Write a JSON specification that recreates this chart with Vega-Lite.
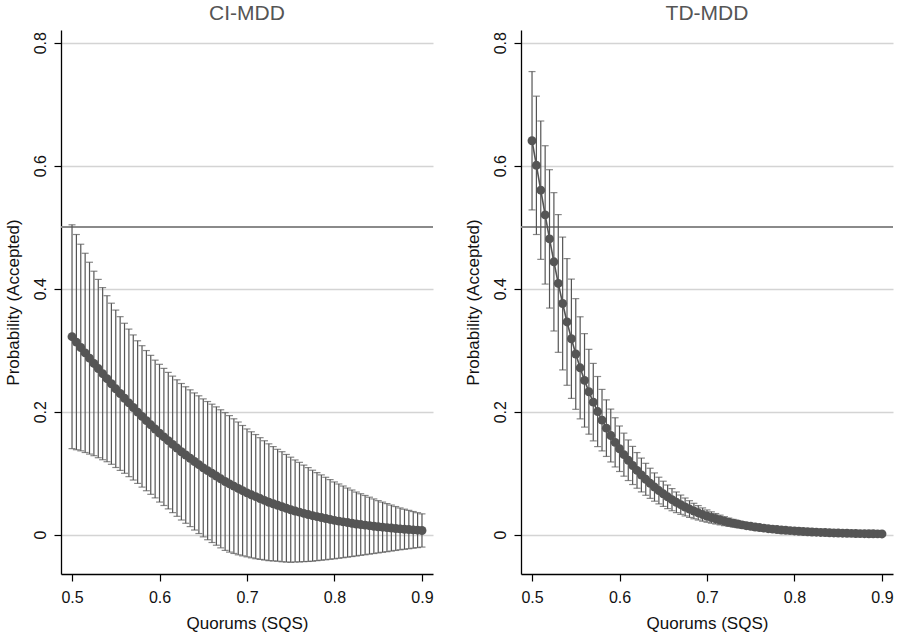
{
"$schema": "https://vega.github.io/schema/vega-lite/v6.json",
"background": "white",
"padding": {"left": 3, "top": 3, "right": 3, "bottom": 3},
"config": {
  "view": {"stroke": null},
  "font": "Liberation Sans",
  "axis": {"domainColor": "#000000", "domainWidth": 1.3, "tickColor": "#000000", "tickSize": 7, "tickWidth": 1.2, "labelFontSize": 16, "titleFontSize": 17, "labelColor": "#111111", "titleColor": "#111111", "labelFont": "Liberation Sans", "titleFont": "Liberation Sans", "titleFontWeight": "normal", "labelPadding": 6},
  "axisY": {"grid": true, "gridColor": "#d4d4d4", "gridWidth": 1.3, "labelAngle": -90, "labelAlign": "center", "labelBaseline": "bottom", "titlePadding": 10},
  "axisX": {"grid": false, "labelFlush": false, "labelPadding": 8, "titlePadding": 10},
  "title": {"fontSize": 21, "fontWeight": "normal", "color": "#555555", "font": "Liberation Sans", "frame": "group", "anchor": "middle", "offset": 6},
  "concat": {"spacing": 29}
},
"datasets": {
"d": [
{"panel":"CI-MDD","q":0.500,"p":0.3219,"e":0.182},
{"panel":"CI-MDD","q":0.505,"p":0.3131,"e":0.175},
{"panel":"CI-MDD","q":0.510,"p":0.3043,"e":0.168},
{"panel":"CI-MDD","q":0.515,"p":0.2956,"e":0.162},
{"panel":"CI-MDD","q":0.520,"p":0.2870,"e":0.156},
{"panel":"CI-MDD","q":0.525,"p":0.2784,"e":0.150},
{"panel":"CI-MDD","q":0.530,"p":0.2701,"e":0.145},
{"panel":"CI-MDD","q":0.535,"p":0.2618,"e":0.140},
{"panel":"CI-MDD","q":0.540,"p":0.2536,"e":0.135},
{"panel":"CI-MDD","q":0.545,"p":0.2454,"e":0.131},
{"panel":"CI-MDD","q":0.550,"p":0.2372,"e":0.128},
{"panel":"CI-MDD","q":0.555,"p":0.2295,"e":0.125},
{"panel":"CI-MDD","q":0.560,"p":0.2218,"e":0.122},
{"panel":"CI-MDD","q":0.565,"p":0.2143,"e":0.120},
{"panel":"CI-MDD","q":0.570,"p":0.2068,"e":0.118},
{"panel":"CI-MDD","q":0.575,"p":0.1993,"e":0.116},
{"panel":"CI-MDD","q":0.580,"p":0.1923,"e":0.115},
{"panel":"CI-MDD","q":0.585,"p":0.1854,"e":0.114},
{"panel":"CI-MDD","q":0.590,"p":0.1786,"e":0.113},
{"panel":"CI-MDD","q":0.595,"p":0.1718,"e":0.112},
{"panel":"CI-MDD","q":0.600,"p":0.1650,"e":0.112},
{"panel":"CI-MDD","q":0.605,"p":0.1589,"e":0.1115},
{"panel":"CI-MDD","q":0.610,"p":0.1529,"e":0.111},
{"panel":"CI-MDD","q":0.615,"p":0.1468,"e":0.111},
{"panel":"CI-MDD","q":0.620,"p":0.1408,"e":0.111},
{"panel":"CI-MDD","q":0.625,"p":0.1348,"e":0.111},
{"panel":"CI-MDD","q":0.630,"p":0.1295,"e":0.111},
{"panel":"CI-MDD","q":0.635,"p":0.1243,"e":0.1112},
{"panel":"CI-MDD","q":0.640,"p":0.1190,"e":0.1115},
{"panel":"CI-MDD","q":0.645,"p":0.1138,"e":0.112},
{"panel":"CI-MDD","q":0.650,"p":0.1086,"e":0.1122},
{"panel":"CI-MDD","q":0.655,"p":0.1041,"e":0.1124},
{"panel":"CI-MDD","q":0.660,"p":0.0997,"e":0.1125},
{"panel":"CI-MDD","q":0.665,"p":0.0953,"e":0.1125},
{"panel":"CI-MDD","q":0.670,"p":0.0908,"e":0.1123},
{"panel":"CI-MDD","q":0.675,"p":0.0864,"e":0.112},
{"panel":"CI-MDD","q":0.680,"p":0.0826,"e":0.111},
{"panel":"CI-MDD","q":0.685,"p":0.0789,"e":0.1095},
{"panel":"CI-MDD","q":0.690,"p":0.0752,"e":0.108},
{"panel":"CI-MDD","q":0.695,"p":0.0715,"e":0.106},
{"panel":"CI-MDD","q":0.700,"p":0.0679,"e":0.104},
{"panel":"CI-MDD","q":0.705,"p":0.0648,"e":0.1025},
{"panel":"CI-MDD","q":0.710,"p":0.0618,"e":0.101},
{"panel":"CI-MDD","q":0.715,"p":0.0587,"e":0.099},
{"panel":"CI-MDD","q":0.720,"p":0.0557,"e":0.097},
{"panel":"CI-MDD","q":0.725,"p":0.0527,"e":0.095},
{"panel":"CI-MDD","q":0.730,"p":0.0502,"e":0.093},
{"panel":"CI-MDD","q":0.735,"p":0.0478,"e":0.091},
{"panel":"CI-MDD","q":0.740,"p":0.0454,"e":0.0895},
{"panel":"CI-MDD","q":0.745,"p":0.0429,"e":0.0875},
{"panel":"CI-MDD","q":0.750,"p":0.0405,"e":0.0855},
{"panel":"CI-MDD","q":0.755,"p":0.0385,"e":0.083},
{"panel":"CI-MDD","q":0.760,"p":0.0366,"e":0.081},
{"panel":"CI-MDD","q":0.765,"p":0.0346,"e":0.0785},
{"panel":"CI-MDD","q":0.770,"p":0.0327,"e":0.0763},
{"panel":"CI-MDD","q":0.775,"p":0.0308,"e":0.074},
{"panel":"CI-MDD","q":0.780,"p":0.0293,"e":0.0717},
{"panel":"CI-MDD","q":0.785,"p":0.0278,"e":0.0694},
{"panel":"CI-MDD","q":0.790,"p":0.0262,"e":0.0671},
{"panel":"CI-MDD","q":0.795,"p":0.0247,"e":0.0648},
{"panel":"CI-MDD","q":0.800,"p":0.0232,"e":0.0625},
{"panel":"CI-MDD","q":0.805,"p":0.0220,"e":0.0604},
{"panel":"CI-MDD","q":0.810,"p":0.0208,"e":0.0583},
{"panel":"CI-MDD","q":0.815,"p":0.0196,"e":0.0562},
{"panel":"CI-MDD","q":0.820,"p":0.0185,"e":0.0541},
{"panel":"CI-MDD","q":0.825,"p":0.0173,"e":0.052},
{"panel":"CI-MDD","q":0.830,"p":0.0164,"e":0.0501},
{"panel":"CI-MDD","q":0.835,"p":0.0155,"e":0.0482},
{"panel":"CI-MDD","q":0.840,"p":0.0146,"e":0.0463},
{"panel":"CI-MDD","q":0.845,"p":0.0137,"e":0.0444},
{"panel":"CI-MDD","q":0.850,"p":0.0128,"e":0.0425},
{"panel":"CI-MDD","q":0.855,"p":0.0121,"e":0.0408},
{"panel":"CI-MDD","q":0.860,"p":0.0114,"e":0.0391},
{"panel":"CI-MDD","q":0.865,"p":0.0107,"e":0.0374},
{"panel":"CI-MDD","q":0.870,"p":0.0100,"e":0.0357},
{"panel":"CI-MDD","q":0.875,"p":0.0094,"e":0.034},
{"panel":"CI-MDD","q":0.880,"p":0.0088,"e":0.0326},
{"panel":"CI-MDD","q":0.885,"p":0.0083,"e":0.0312},
{"panel":"CI-MDD","q":0.890,"p":0.0078,"e":0.0298},
{"panel":"CI-MDD","q":0.895,"p":0.0073,"e":0.0284},
{"panel":"CI-MDD","q":0.900,"p":0.0068,"e":0.027},
{"panel":"TD-MDD","q":0.500,"p":0.6406,"e":0.1125},
{"panel":"TD-MDD","q":0.505,"p":0.6006,"e":0.1125},
{"panel":"TD-MDD","q":0.510,"p":0.5602,"e":0.1125},
{"panel":"TD-MDD","q":0.515,"p":0.5200,"e":0.1125},
{"panel":"TD-MDD","q":0.520,"p":0.4810,"e":0.1125},
{"panel":"TD-MDD","q":0.525,"p":0.4437,"e":0.1125},
{"panel":"TD-MDD","q":0.530,"p":0.4085,"e":0.112},
{"panel":"TD-MDD","q":0.535,"p":0.3759,"e":0.108},
{"panel":"TD-MDD","q":0.540,"p":0.3459,"e":0.103},
{"panel":"TD-MDD","q":0.545,"p":0.3186,"e":0.097},
{"panel":"TD-MDD","q":0.550,"p":0.2938,"e":0.090},
{"panel":"TD-MDD","q":0.555,"p":0.2713,"e":0.083},
{"panel":"TD-MDD","q":0.560,"p":0.2509,"e":0.076},
{"panel":"TD-MDD","q":0.565,"p":0.2324,"e":0.069},
{"panel":"TD-MDD","q":0.570,"p":0.2155,"e":0.063},
{"panel":"TD-MDD","q":0.575,"p":0.2002,"e":0.057},
{"panel":"TD-MDD","q":0.580,"p":0.1862,"e":0.050},
{"panel":"TD-MDD","q":0.585,"p":0.1732,"e":0.046},
{"panel":"TD-MDD","q":0.590,"p":0.1612,"e":0.043},
{"panel":"TD-MDD","q":0.595,"p":0.1501,"e":0.040},
{"panel":"TD-MDD","q":0.600,"p":0.1397,"e":0.037},
{"panel":"TD-MDD","q":0.605,"p":0.1301,"e":0.035},
{"panel":"TD-MDD","q":0.610,"p":0.1210,"e":0.033},
{"panel":"TD-MDD","q":0.615,"p":0.1125,"e":0.031},
{"panel":"TD-MDD","q":0.620,"p":0.1045,"e":0.029},
{"panel":"TD-MDD","q":0.625,"p":0.0970,"e":0.0275},
{"panel":"TD-MDD","q":0.630,"p":0.0900,"e":0.026},
{"panel":"TD-MDD","q":0.635,"p":0.0835,"e":0.0245},
{"panel":"TD-MDD","q":0.640,"p":0.0774,"e":0.023},
{"panel":"TD-MDD","q":0.645,"p":0.0717,"e":0.0217},
{"panel":"TD-MDD","q":0.650,"p":0.0664,"e":0.0205},
{"panel":"TD-MDD","q":0.655,"p":0.0615,"e":0.0192},
{"panel":"TD-MDD","q":0.660,"p":0.0569,"e":0.018},
{"panel":"TD-MDD","q":0.665,"p":0.0526,"e":0.0168},
{"panel":"TD-MDD","q":0.670,"p":0.0487,"e":0.0157},
{"panel":"TD-MDD","q":0.675,"p":0.0450,"e":0.0146},
{"panel":"TD-MDD","q":0.680,"p":0.0416,"e":0.0136},
{"panel":"TD-MDD","q":0.685,"p":0.0384,"e":0.0126},
{"panel":"TD-MDD","q":0.690,"p":0.0355,"e":0.0117},
{"panel":"TD-MDD","q":0.695,"p":0.0327,"e":0.0108},
{"panel":"TD-MDD","q":0.700,"p":0.0302,"e":0.0100},
{"panel":"TD-MDD","q":0.705,"p":0.0279,"e":0.0092},
{"panel":"TD-MDD","q":0.710,"p":0.0258,"e":0.0085},
{"panel":"TD-MDD","q":0.715,"p":0.0238,"e":0.0079},
{"panel":"TD-MDD","q":0.720,"p":0.0219,"e":0.0073},
{"panel":"TD-MDD","q":0.725,"p":0.0202,"e":0.0067},
{"panel":"TD-MDD","q":0.730,"p":0.0186,"e":0.0062},
{"panel":"TD-MDD","q":0.735,"p":0.0172,"e":0.0057},
{"panel":"TD-MDD","q":0.740,"p":0.0159,"e":0.0053},
{"panel":"TD-MDD","q":0.745,"p":0.0146,"e":0.0049},
{"panel":"TD-MDD","q":0.750,"p":0.0135,"e":0.0045},
{"panel":"TD-MDD","q":0.755,"p":0.0124,"e":0.0042},
{"panel":"TD-MDD","q":0.760,"p":0.0115,"e":0.0039},
{"panel":"TD-MDD","q":0.765,"p":0.0106,"e":0.0036},
{"panel":"TD-MDD","q":0.770,"p":0.0097,"e":0.0033},
{"panel":"TD-MDD","q":0.775,"p":0.0090,"e":0.0030},
{"panel":"TD-MDD","q":0.780,"p":0.0083,"e":0.0028},
{"panel":"TD-MDD","q":0.785,"p":0.0076,"e":0.0026},
{"panel":"TD-MDD","q":0.790,"p":0.0070,"e":0.0024},
{"panel":"TD-MDD","q":0.795,"p":0.0065,"e":0.0022},
{"panel":"TD-MDD","q":0.800,"p":0.0060,"e":0.0020},
{"panel":"TD-MDD","q":0.805,"p":0.0055,"e":0.0019},
{"panel":"TD-MDD","q":0.810,"p":0.0051,"e":0.0017},
{"panel":"TD-MDD","q":0.815,"p":0.0047,"e":0.0016},
{"panel":"TD-MDD","q":0.820,"p":0.0043,"e":0.0015},
{"panel":"TD-MDD","q":0.825,"p":0.0040,"e":0.0014},
{"panel":"TD-MDD","q":0.830,"p":0.0036,"e":0.0013},
{"panel":"TD-MDD","q":0.835,"p":0.0034,"e":0.0012},
{"panel":"TD-MDD","q":0.840,"p":0.0031,"e":0.0011},
{"panel":"TD-MDD","q":0.845,"p":0.0028,"e":0.0010},
{"panel":"TD-MDD","q":0.850,"p":0.0026,"e":0.0009},
{"panel":"TD-MDD","q":0.855,"p":0.0024,"e":0.0008},
{"panel":"TD-MDD","q":0.860,"p":0.0022,"e":0.0008},
{"panel":"TD-MDD","q":0.865,"p":0.0021,"e":0.0007},
{"panel":"TD-MDD","q":0.870,"p":0.0019,"e":0.0007},
{"panel":"TD-MDD","q":0.875,"p":0.0017,"e":0.0006},
{"panel":"TD-MDD","q":0.880,"p":0.0016,"e":0.0006},
{"panel":"TD-MDD","q":0.885,"p":0.0015,"e":0.0005},
{"panel":"TD-MDD","q":0.890,"p":0.0014,"e":0.0005},
{"panel":"TD-MDD","q":0.895,"p":0.0013,"e":0.0004},
{"panel":"TD-MDD","q":0.900,"p":0.0012,"e":0.0004}
]
},
"data": {"name": "d"},
"hconcat": [
{
  "title": "CI-MDD",
  "width": 372,
  "height": 544,
  "transform": [{"filter": "datum.panel === 'CI-MDD'"}],
  "layer": [
    {"mark": {"type": "rule", "color": "#8a8a8a", "strokeWidth": 1.3},
     "encoding": {"y": {"datum": 0.5, "type": "quantitative", "scale": {"domain": [-0.064, 0.8207], "nice": false, "zero": false}, "axis": {"values": [0, 0.2, 0.4, 0.6, 0.8], "format": ".1~f", "grid": true, "title": "Probability (Accepted)"}}}},
    {"mark": {"type": "errorbar", "color": "#555555", "thickness": 1.2, "ticks": {"size": 7, "thickness": 1.2, "color": "#555555"}},
     "encoding": {"x": {"field": "q", "type": "quantitative", "scale": {"domain": [0.4874, 0.9126], "nice": false, "zero": false}, "axis": {"values": [0.5, 0.6, 0.7, 0.8, 0.9], "format": ".1f", "title": "Quorums (SQS)"}},
                  "y": {"field": "p", "type": "quantitative", "title": "Probability (Accepted)"},
                  "yError": {"field": "e"}}},
    {"mark": {"type": "line", "color": "#555555", "strokeWidth": 1.6},
     "encoding": {"x": {"field": "q", "type": "quantitative", "title": "Quorums (SQS)"}, "y": {"field": "p", "type": "quantitative", "title": "Probability (Accepted)"}}},
    {"mark": {"type": "point", "filled": true, "color": "#555555", "opacity": 1, "size": 80},
     "encoding": {"x": {"field": "q", "type": "quantitative", "title": "Quorums (SQS)"}, "y": {"field": "p", "type": "quantitative", "title": "Probability (Accepted)"}}}
  ]
},
{
  "title": "TD-MDD",
  "width": 372,
  "height": 544,
  "transform": [{"filter": "datum.panel === 'TD-MDD'"}],
  "layer": [
    {"mark": {"type": "rule", "color": "#8a8a8a", "strokeWidth": 1.3},
     "encoding": {"y": {"datum": 0.5, "type": "quantitative", "scale": {"domain": [-0.064, 0.8207], "nice": false, "zero": false}, "axis": {"values": [0, 0.2, 0.4, 0.6, 0.8], "format": ".1~f", "grid": true, "title": "Probability (Accepted)"}}}},
    {"mark": {"type": "errorbar", "color": "#555555", "thickness": 1.2, "ticks": {"size": 7, "thickness": 1.2, "color": "#555555"}},
     "encoding": {"x": {"field": "q", "type": "quantitative", "scale": {"domain": [0.4874, 0.9126], "nice": false, "zero": false}, "axis": {"values": [0.5, 0.6, 0.7, 0.8, 0.9], "format": ".1f", "title": "Quorums (SQS)"}},
                  "y": {"field": "p", "type": "quantitative", "title": "Probability (Accepted)"},
                  "yError": {"field": "e"}}},
    {"mark": {"type": "line", "color": "#555555", "strokeWidth": 1.6},
     "encoding": {"x": {"field": "q", "type": "quantitative", "title": "Quorums (SQS)"}, "y": {"field": "p", "type": "quantitative", "title": "Probability (Accepted)"}}},
    {"mark": {"type": "point", "filled": true, "color": "#555555", "opacity": 1, "size": 80},
     "encoding": {"x": {"field": "q", "type": "quantitative", "title": "Quorums (SQS)"}, "y": {"field": "p", "type": "quantitative", "title": "Probability (Accepted)"}}}
  ]
}
]
}
